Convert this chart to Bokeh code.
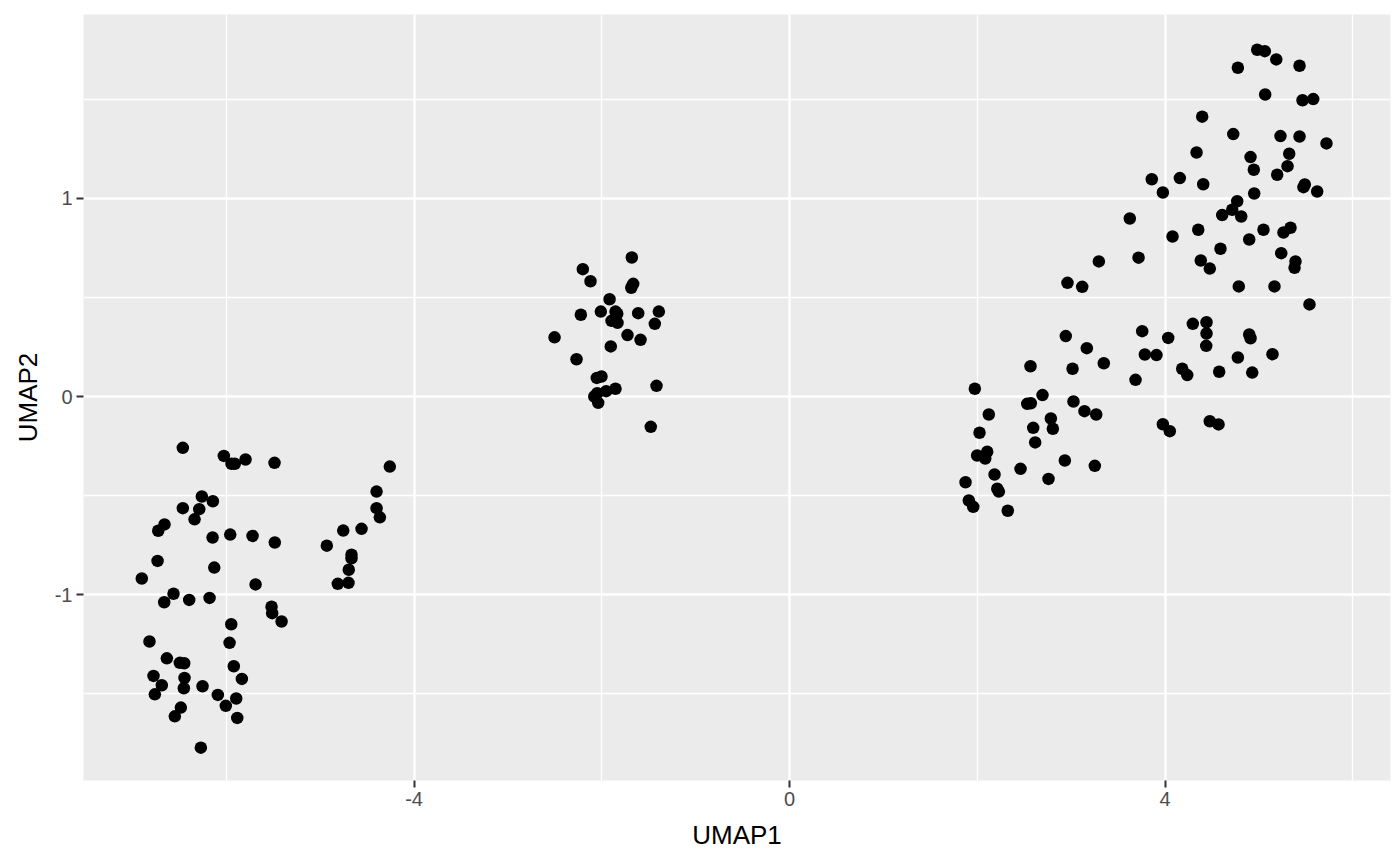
from bokeh.plotting import figure
from bokeh.models import FixedTicker, Range1d, ColumnDataSource
from bokeh.embed import file_html
from bokeh.resources import INLINE

# UMAP coordinates
umap1 = [
    # left cluster
    -6.463, -6.026, -5.944, -5.909, -5.795, -5.486, -6.260, -6.143, -6.463, -6.288,
    -6.338, -6.658, -6.725, -6.146, -5.958, -5.720, -5.483, -6.732, -6.128, -6.900,
    -5.688,
    -6.562, -6.661, -6.395, -6.178, -5.518, -5.511, -5.411, -5.947, -6.818, -5.965,
    -6.633, -6.495, -6.448, -5.920, -6.775, -6.445, -5.834, -6.687, -6.452, -6.253,
    -6.761, -6.090, -5.894, -6.005, -6.484, -6.548, -5.883, -6.271,
    # left sub-cluster
    -4.258, -4.399, -4.399, -4.364, -4.559, -4.754, -4.929, -4.666, -4.666, -4.695,
    -4.812, -4.698,
    # middle cluster
    -1.680, -2.202, -2.120, -1.665, -1.686, -1.917, -2.223, -2.010, -1.854, -1.835,
    -1.612, -1.392, -1.896, -1.832, -1.435, -2.503, -1.726, -1.587, -1.904, -2.269,
    -2.053, -2.003, -1.417, -1.854, -1.953, -2.080, -2.048, -2.038, -1.478,
    # right cluster, lower part
    2.943, 3.167, 3.348, 2.567, 3.015, 1.974, 2.695, 2.532, 2.570, 3.025,
    3.142, 3.267, 2.123, 2.784, 2.596, 2.805, 2.024, 2.617, 2.106, 1.999,
    2.085, 2.933, 2.461, 3.252, 2.184, 1.875, 2.759, 2.213, 2.230, 1.910,
    1.957, 2.325,
    # right cluster, middle part
    4.786, 5.166, 4.296, 4.442, 4.442, 3.757, 4.034, 4.897, 4.911, 3.785,
    3.909, 4.439, 4.776, 5.145, 4.183, 4.237, 4.577, 4.929, 3.686, 3.977,
    4.051, 4.477, 4.570,
    # right cluster, upper part
    4.946, 5.195, 5.305, 3.859, 4.158, 4.407, 3.977, 4.950, 5.475, 5.489,
    5.621, 4.769, 4.716, 4.609, 4.812, 3.625, 4.354, 5.049, 5.262, 5.337,
    4.080, 4.897, 4.591, 3.718, 5.238, 4.381, 4.477, 5.390, 5.380, 5.539,
    # right cluster, top
    4.982, 5.063, 5.185, 5.433, 4.776, 5.067, 5.465, 5.579, 4.396, 4.727,
    5.230, 5.433, 5.720, 4.336, 4.911, 5.323,
    3.295, 2.961, 3.118,
]
umap2 = [
    -0.259, -0.300, -0.340, -0.340, -0.318, -0.335, -0.505, -0.529, -0.564, -0.569,
    -0.620, -0.646, -0.678, -0.712, -0.697, -0.704, -0.737, -0.830, -0.864, -0.919,
    -0.949,
    -0.996, -1.039, -1.027, -1.017, -1.061, -1.094, -1.136, -1.150, -1.237, -1.244,
    -1.322, -1.345, -1.347, -1.362, -1.411, -1.421, -1.426, -1.458, -1.473, -1.463,
    -1.504, -1.507, -1.525, -1.562, -1.571, -1.615, -1.623, -1.773,
    -0.354, -0.480, -0.564, -0.610, -0.668, -0.677, -0.753, -0.799, -0.817, -0.875,
    -0.946, -0.941,
    0.702, 0.643, 0.582, 0.569, 0.549, 0.491, 0.413, 0.429, 0.429, 0.418,
    0.421, 0.429, 0.382, 0.372, 0.367, 0.299, 0.310, 0.286, 0.253, 0.188,
    0.094, 0.101, 0.054, 0.039, 0.027, 0.000, 0.017, -0.032, -0.153,
    0.305, 0.244, 0.168, 0.153, 0.140, 0.039, 0.007, -0.037, -0.034, -0.025,
    -0.074, -0.091, -0.091, -0.111, -0.158, -0.163, -0.183, -0.232, -0.279, -0.298,
    -0.313, -0.323, -0.365, -0.350, -0.394, -0.433, -0.416, -0.466, -0.480, -0.525,
    -0.557, -0.577,
    0.556, 0.556, 0.367, 0.375, 0.318, 0.330, 0.296, 0.313, 0.294, 0.212,
    0.209, 0.256, 0.197, 0.214, 0.140, 0.108, 0.125, 0.121, 0.084, -0.140,
    -0.175, -0.125, -0.141,
    1.145, 1.120, 1.163, 1.097, 1.103, 1.072, 1.030, 1.025, 1.057, 1.071,
    1.035, 0.986, 0.943, 0.916, 0.909, 0.899, 0.842, 0.842, 0.828, 0.852,
    0.808, 0.793, 0.746, 0.701, 0.724, 0.687, 0.646, 0.682, 0.650, 0.465,
    1.751, 1.744, 1.702, 1.670, 1.660, 1.525, 1.496, 1.502, 1.413, 1.325,
    1.315, 1.313, 1.278, 1.232, 1.209, 1.226,
    0.682, 0.574, 0.554,
]

x_ticks = [-4, 0, 4]
x_minor = [-6, -2, 2, 6]
y_ticks = [-1, 0, 1]
y_minor = [-1.5, -0.5, 0.5, 1.5]

FONT = "Liberation Sans"

p = figure(
    frame_width=1307, frame_height=766,
    min_border_left=83, min_border_right=2, min_border_top=14, min_border_bottom=78,
    x_range=Range1d(-7.521, 6.402), y_range=Range1d(-1.939, 1.929),
    output_backend="svg", toolbar_location=None,
    background_fill_color="#EBEBEB", border_fill_color="white",
    outline_line_color=None,
)

src = ColumnDataSource(dict(x=umap1, y=umap2))
p.scatter("x", "y", source=src, size=12.5, fill_color="black", line_color="black",
          line_width=0)

p.xaxis.ticker = FixedTicker(ticks=x_ticks, minor_ticks=x_minor)
p.yaxis.ticker = FixedTicker(ticks=y_ticks, minor_ticks=y_minor)
p.xaxis.major_label_overrides = {-4: "-4", 0: "0", 4: "4"}
p.yaxis.major_label_overrides = {-1: "-1", 0: "0", 1: "1"}

for g in (p.xgrid, p.ygrid):
    g.grid_line_color = "white"
    g.grid_line_width = 2.4
    g.minor_grid_line_color = "white"
    g.minor_grid_line_width = 1.3

for ax in (p.xaxis, p.yaxis):
    ax.axis_line_color = None
    ax.major_tick_line_color = "#333333"
    ax.major_tick_line_width = 2
    ax.major_tick_out = 7
    ax.major_tick_in = 0
    ax.minor_tick_line_color = None
    ax.major_label_text_font = FONT
    ax.major_label_text_font_size = "20px"
    ax.major_label_text_color = "#4D4D4D"
    ax.axis_label_text_font = FONT
    ax.axis_label_text_font_size = "26px"
    ax.axis_label_text_color = "black"
    ax.axis_label_text_font_style = "normal"
    ax.major_label_standoff = 4

p.xaxis.axis_label = "UMAP1"
p.yaxis.axis_label = "UMAP2"
p.xaxis.axis_label_standoff = 11
p.yaxis.axis_label_standoff = 9
p.yaxis.major_label_orientation = "horizontal"

open("out.html", "w").write(file_html(p, INLINE))
